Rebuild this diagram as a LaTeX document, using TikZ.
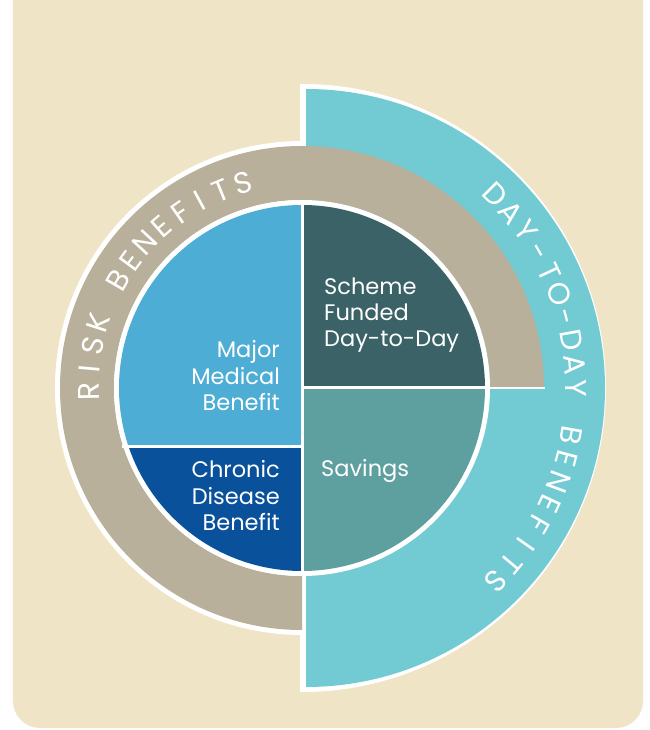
\documentclass[tikz,border=0pt]{standalone}
\usepackage{fontspec}
\setmainfont{Poppins}

\definecolor{cardbg}{RGB}{240,228,198}
\definecolor{riskring}{RGB}{184,176,154}
\definecolor{dayring}{RGB}{114,202,211}
\definecolor{majorblue}{RGB}{77,173,213}
\definecolor{chronicblue}{RGB}{10,81,156}
\definecolor{schemeteal}{RGB}{58,98,103}
\definecolor{savingsteal}{RGB}{94,159,160}

\newcommand\ringfont{\fontsize{30}{30}\selectfont}
\newlength\chw
\newlength\ringsum
\newcount\ringcnt

\tikzset{
  inlabel/.style={text=white, inner sep=0pt, font=\fontsize{22.5}{26}\selectfont},
  ringletter/.style={text=white, inner sep=0pt, anchor=base},
}

% Set a word clockwise along an arc, spread evenly from the start angle
% to the end angle: #1 name prefix, #2 radius, #3 start, #4 end, #5 letters
\newcommand\placering[5]{%
  \global\ringsum=0pt \global\ringcnt=0
  \foreach \ch in {#5} {%
    \settowidth{\chw}{\ringfont\ch}%
    \global\advance\ringsum by \chw
    \global\advance\ringcnt by 1
  }%
  \pgfmathsetmacro\ringtrack{((#3-#4)/57.29578*#2 - \ringsum)/(\ringcnt-1)}%
  \xdef\ringang{#3}%
  \foreach \ch [count=\i] in {#5} {%
    \settowidth{\chw}{\ringfont\ch}%
    \pgfmathsetmacro\ringmid{\ringang - (\chw/2)/#2*57.29578}%
    \node[ringletter, rotate=\ringmid-90] (#1-\i) at (\ringmid:#2) {\ringfont\ch};
    \pgfmathsetmacro\ringnext{\ringang - (\chw + \ringtrack)/#2*57.29578}%
    \xdef\ringang{\ringnext}%
  }%
}

\begin{document}
\begin{tikzpicture}[x=1pt,y=1pt]
  % canvas: centre of the rings at the origin
  \useasboundingbox (-302,-342) rectangle (347,388);
  \clip (-302,-342) rectangle (347,388);
  \fill[white] (-302,-342) rectangle (347,388);

  % beige card, open at the top
  \fill[cardbg, rounded corners=27pt] (-289,-340) rectangle (341,430);

  % day-to-day half disc with white rim
  \fill[white] (-2,304) -- (0,304) arc (90:-90:304) -- (-2,-304) -- cycle;
  \fill[dayring] (4,299) arc (90:-90:299) -- cycle;

  % risk ring: white rim on the left half, then the ring itself
  \fill[white] (0,247) arc (90:270:247) -- cycle;
  \fill[riskring] (242,0) arc (0:270:242) -- (0,-188) arc (270:0:188) -- cycle;
  \draw[white, line width=2.5pt] (0,0) -- (243,0);

  % white gap round the inner disc
  \fill[white] (0,0) circle (188);

  % inner quarters
  \begin{scope}
    \clip (0,0) circle (183);
    \fill[schemeteal] (0,0) rectangle (190,190);
    \fill[savingsteal] (0,0) rectangle (190,-190);
    \fill[majorblue] (0,-59) rectangle (-190,190);
    \fill[chronicblue] (0,-59) rectangle (-190,-190);
  \end{scope}
  \draw[white, line width=3pt] (0,-188) -- (0,188);
  \draw[white, line width=3pt] (0,0) -- (188,0);
  \draw[white, line width=3pt] (-180,-59) -- (0,-59);

  % labels of the quarters
  \node[inlabel, anchor=base east] (major1) at (-22,30) {Major};
  \node[inlabel, anchor=base east] (major2) at (-22,3) {Medical};
  \node[inlabel, anchor=base east] (major3) at (-22,-23) {Benefit};
  \node[inlabel, anchor=base east] (chronic1) at (-22,-90) {Chronic};
  \node[inlabel, anchor=base east] (chronic2) at (-22,-117) {Disease};
  \node[inlabel, anchor=base east] (chronic3) at (-22,-142) {Benefit};
  \node[inlabel, anchor=base west] (scheme1) at (22,93) {Scheme};
  \node[inlabel, anchor=base west] (scheme2) at (22,67) {Funded};
  \node[inlabel, anchor=base west] (scheme3) at (22,41) {Day-to-Day};
  \node[inlabel, anchor=base west] (savings) at (19,-89) {Savings};

  % ring titles along their arcs
  \placering{risk}{203}{181}{106}{R,I,S,K,~,B,E,N,E,F,I,T,S}
  \placering{day}{263}{45}{-45}{D,A,Y,-,T,O,-,D,A,Y,~,B,E,N,E,F,I,T,S}
\end{tikzpicture}
\end{document}
